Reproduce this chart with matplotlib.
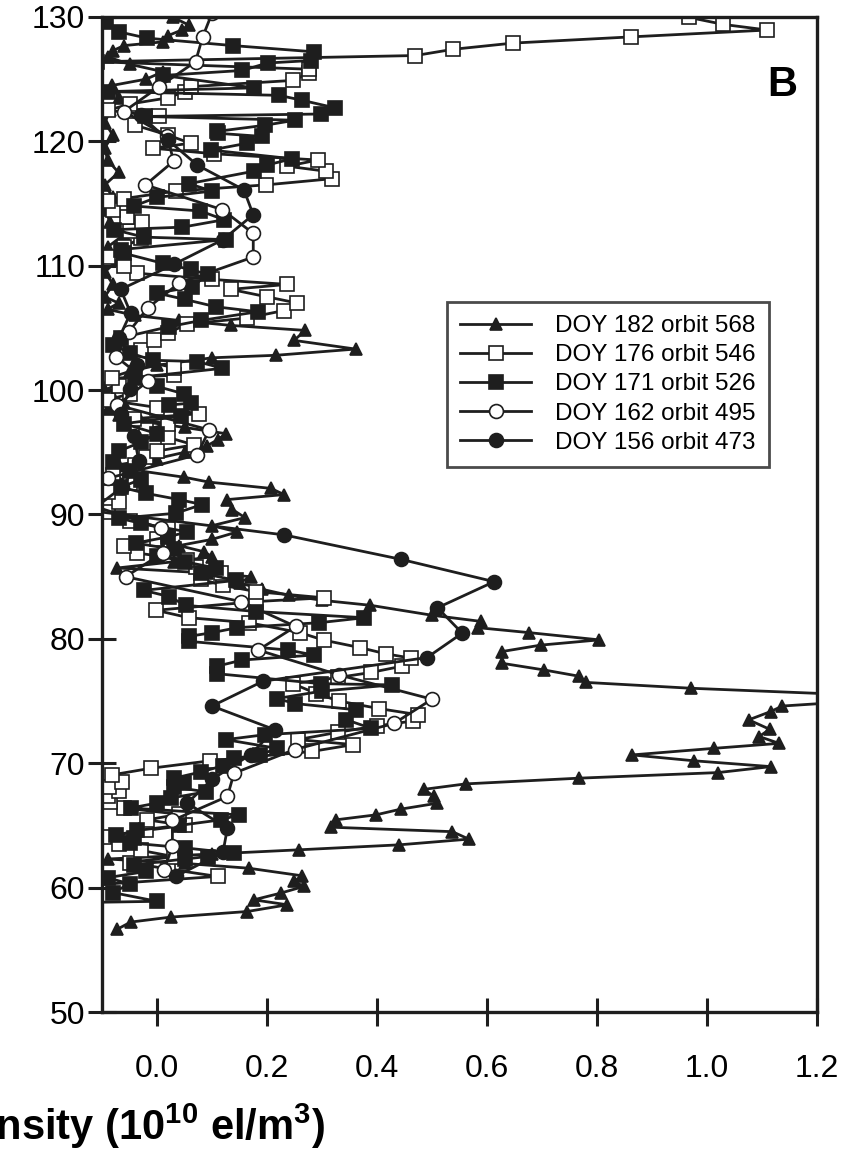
import matplotlib
matplotlib.use("Agg")
import matplotlib.pyplot as plt

plt.rcParams['font.family'] = ['Liberation Sans', 'DejaVu Sans']
plt.rcParams['mathtext.fontset'] = 'custom'
plt.rcParams['mathtext.rm'] = 'Liberation Sans'
plt.rcParams['mathtext.bf'] = 'Liberation Sans:bold'

# ---- Electron density profiles (altitude in km, density in 1e10 el/m^3) ----
doy182_alt = [56.66, 57.23, 57.63, 58.08, 58.62, 59.02, 59.56, 60.10, 60.50, 60.95,
              61.56, 61.95, 62.30, 62.70, 63.04, 63.44, 63.90, 64.50, 64.86, 65.45,
              65.85, 66.31, 66.79, 67.33, 67.90, 68.34, 68.80, 69.25, 69.73, 70.20,
              70.67, 71.20, 71.60, 72.15, 72.73, 73.49, 74.16, 74.60, 75.30, 76.03,
              76.50, 77.00, 77.50, 78.04, 78.98, 79.50, 79.92, 80.50, 80.90, 81.40,
              81.90, 82.70, 83.10, 83.50, 84.00, 84.50, 85.00, 85.30, 85.70, 86.20,
              86.60, 87.00, 87.50, 88.00, 88.60, 89.10, 89.75, 90.40, 91.20, 91.60,
              92.10, 92.60, 93.00, 93.50, 94.00, 94.50, 95.00, 95.50, 96.00, 96.50,
              97.00, 97.50, 98.00, 98.50, 99.00, 99.50, 100.0, 100.5, 101.0, 101.5,
              102.0, 102.6, 102.8, 103.3, 104.0, 104.8, 105.2, 105.6, 106.0, 106.5,
              107.0, 107.5, 108.5, 109.5, 110.5, 111.5, 112.5, 113.5, 114.5, 115.5,
              116.5, 117.5, 118.5, 119.5, 120.5, 121.5, 122.5, 123.5, 124.5, 125.0,
              125.6, 126.2, 126.8, 127.3, 127.7, 128.0, 128.5, 128.95, 129.35, 129.97,
              130.4]
doy182_ne = [-0.072, -0.048, 0.025, 0.164, 0.237, 0.176, 0.225, 0.267, 0.249, 0.264,
             0.167, 0.050, -0.090, 0.100, 0.258, 0.440, 0.567, 0.537, 0.316, 0.325,
             0.398, 0.443, 0.510, 0.504, 0.485, 0.561, 0.767, 1.020, 1.116, 0.976,
             0.864, 1.013, 1.131, 1.095, 1.114, 1.076, 1.116, 1.137, 1.380, 0.971,
             0.780, 0.767, 0.704, 0.627, 0.627, 0.698, 0.804, 0.677, 0.584, 0.590,
             0.500, 0.388, 0.300, 0.240, 0.190, 0.150, 0.170, 0.090, -0.072, 0.030,
             0.100, 0.086, 0.040, 0.100, 0.146, 0.100, 0.160, 0.137, 0.128, 0.231,
             0.207, 0.095, 0.049, -0.030, -0.070, 0.000, 0.050, 0.090, 0.110, 0.125,
             0.050, -0.030, -0.070, -0.090, -0.060, -0.080, -0.095, -0.070, -0.085, -0.050,
             0.000, 0.100, 0.216, 0.361, 0.249, 0.270, 0.135, 0.040, -0.040, -0.090,
             -0.070, -0.095, -0.080, -0.095, -0.070, -0.090, -0.060, -0.085, -0.095, -0.080,
             -0.095, -0.070, -0.090, -0.095, -0.080, -0.095, -0.085, -0.070, -0.081, -0.020,
             0.011, -0.050, -0.090, -0.080, -0.060, 0.011, 0.020, 0.045, 0.058, 0.029,
             0.000]

doy176_alt = [60.2, 60.9, 61.5, 62.0, 62.5, 63.0, 63.5, 64.1, 64.6, 65.0,
              65.45, 65.9, 66.4, 66.9, 67.4, 67.8, 68.13, 68.53, 69.07, 69.6,
              70.2, 70.95, 71.5, 71.9, 72.5, 73.0, 73.4, 73.9, 74.4, 75.0,
              75.6, 76.4, 76.9, 77.3, 77.8, 78.45, 78.8, 79.3, 79.9, 80.5,
              81.3, 81.7, 82.3, 83.0, 83.3, 83.8, 84.3, 84.8, 85.3, 85.8,
              86.35, 86.9, 87.5, 88.0, 88.8, 89.5, 90.2, 91.0, 91.8, 92.5,
              93.2, 94.0, 94.6, 95.1, 95.6, 96.2, 96.8, 97.3, 97.7, 98.1,
              98.6, 99.2, 99.7, 100.3, 100.95, 101.2, 101.8, 102.4, 103.2, 104.0,
              104.6, 105.3, 105.8, 106.4, 107.0, 107.5, 108.1, 108.5, 108.9, 109.4,
              110.0, 110.7, 111.5, 112.2, 112.8, 113.5, 113.9, 114.5, 115.2, 115.4,
              116.0, 116.5, 117.0, 117.6, 118.0, 118.5, 119.0, 119.45, 119.85, 120.5,
              121.3, 122.0, 122.5, 123.0, 123.5, 124.0, 124.4, 124.9, 125.5, 125.8,
              126.4, 126.9, 127.4, 127.9, 128.4, 128.95, 129.4, 129.97, 130.5]
doy176_ne = [-0.120, 0.110, 0.020, -0.050, 0.030, -0.030, -0.070, -0.096, -0.020, 0.050,
             -0.018, 0.040, -0.060, -0.085, -0.090, -0.070, -0.087, -0.063, -0.081, -0.011,
             0.097, 0.282, 0.357, 0.256, 0.330, 0.400, 0.466, 0.475, 0.403, 0.331,
             0.290, 0.247, 0.330, 0.389, 0.445, 0.462, 0.416, 0.369, 0.303, 0.260,
             0.167, 0.058, -0.002, 0.180, 0.304, 0.180, 0.120, 0.080, 0.116, 0.070,
             0.055, -0.036, -0.060, 0.000, 0.020, -0.050, -0.090, -0.070, -0.090, -0.050,
             -0.080, -0.040, -0.020, 0.000, 0.067, 0.020, -0.020, 0.020, -0.042, 0.076,
             0.000, -0.090, -0.050, -0.070, -0.081, 0.031, 0.031, -0.030, -0.030, -0.005,
             0.020, 0.055, 0.164, 0.231, 0.255, 0.200, 0.134, 0.237, 0.100, -0.036,
             -0.060, -0.090, -0.060, -0.030, -0.050, -0.027, -0.054, -0.080, -0.090, -0.060,
             0.034, 0.198, 0.319, 0.307, 0.237, 0.292, 0.104, -0.008, 0.061, 0.020,
             -0.040, 0.004, -0.089, -0.050, 0.020, 0.050, 0.062, 0.247, 0.277, 0.277,
             -0.110, 0.470, 0.538, 0.647, 0.862, 1.110, 1.030, 0.967, 0.900]

doy171_alt = [58.8, 58.9, 59.6, 60.3, 60.8, 61.3, 61.83, 62.3, 62.5, 62.77,
              63.2, 63.6, 64.0, 64.2, 64.6, 65.0, 65.45, 65.85, 66.4, 66.8,
              67.2, 67.7, 68.1, 68.4, 68.8, 69.3, 69.8, 70.4, 70.68, 71.2,
              71.9, 72.3, 72.8, 73.5, 74.3, 74.8, 75.2, 75.8, 76.3, 76.4,
              77.2, 77.8, 78.3, 78.7, 79.1, 79.8, 80.2, 80.5, 80.9, 81.3,
              81.7, 82.2, 82.7, 83.4, 83.9, 84.7, 85.3, 85.7, 86.2, 86.7,
              87.2, 87.7, 88.2, 88.6, 89.3, 89.7, 90.1, 90.8, 91.2, 91.7,
              92.2, 92.8, 93.5, 94.2, 95.1, 95.8, 96.5, 97.3, 97.9, 98.8,
              98.95, 99.7, 100.3, 101.0, 101.75, 102.3, 102.4, 103.0, 103.6, 104.2,
              105.1, 105.6, 106.3, 106.7, 107.3, 107.8, 108.3, 109.3, 109.7, 110.2,
              111.0, 111.3, 112.1, 112.3, 112.9, 113.1, 113.7, 114.4, 114.8, 115.5,
              116.0, 116.6, 117.6, 118.1, 118.6, 119.3, 119.85, 120.4, 120.65, 120.8,
              121.3, 121.7, 122.0, 122.2, 122.7, 123.3, 123.7, 124.0, 124.3, 125.3,
              125.7, 126.3, 126.5, 127.2, 127.7, 128.3, 128.8, 129.6, 130.3]
doy171_ne = [-0.140, 0.000, -0.080, -0.050, -0.090, -0.020, -0.042, 0.050, 0.092, 0.140,
             0.050, -0.050, -0.042, -0.075, -0.036, 0.040, 0.116, 0.149, -0.048, 0.000,
             0.025, 0.089, 0.030, 0.049, 0.031, 0.080, 0.120, 0.140, 0.188, 0.218,
             0.125, 0.197, 0.390, 0.344, 0.361, 0.251, 0.218, 0.300, 0.428, 0.298,
             0.109, 0.109, 0.155, 0.285, 0.239, 0.058, 0.058, 0.100, 0.146, 0.295,
             0.377, 0.180, 0.052, 0.022, -0.024, 0.143, 0.080, 0.107, 0.050, 0.000,
             0.030, -0.039, 0.020, 0.055, -0.030, -0.069, 0.034, 0.082, 0.040, -0.020,
             -0.066, -0.030, -0.050, -0.080, -0.069, -0.030, 0.000, -0.060, 0.043, 0.022,
             0.061, 0.049, 0.000, -0.040, 0.119, 0.073, -0.008, -0.050, -0.080, -0.066,
             0.022, 0.080, 0.183, 0.107, 0.050, 0.000, 0.064, 0.092, 0.061, 0.010,
             -0.060, -0.066, 0.125, -0.024, -0.078, 0.046, 0.122, 0.079, -0.042, 0.000,
             0.100, 0.058, 0.176, 0.200, 0.246, 0.098, 0.164, 0.190, 0.110, 0.109,
             0.197, 0.251, -0.022, 0.298, 0.323, 0.264, 0.222, -0.089, 0.176, 0.011,
             0.155, 0.201, 0.280, 0.285, 0.138, -0.018, -0.069, -0.093, -0.120]

doy162_alt = [61.43, 63.36, 65.4, 67.33, 69.2, 71.1, 73.2, 75.15, 77.1, 79.1,
              81.0, 83.0, 85.0, 86.9, 88.9, 90.9, 92.9, 94.8, 96.8, 98.8,
              100.7, 102.7, 104.7, 106.6, 108.6, 110.7, 112.6, 114.5, 116.5, 118.4,
              120.4, 122.4, 124.4, 126.4, 128.4, 130.3]
doy162_ne = [0.013, 0.028, 0.028, 0.128, 0.140, 0.250, 0.431, 0.500, 0.331, 0.184,
             0.252, 0.152, -0.057, 0.010, 0.007, -0.130, -0.090, 0.073, 0.095, -0.072,
             -0.017, -0.075, -0.051, -0.017, 0.040, 0.175, 0.175, 0.119, -0.021, 0.030,
             0.019, -0.060, 0.004, 0.070, 0.083, 0.100]

doy156_alt = [60.9, 62.85, 64.78, 66.79, 68.7, 70.7, 72.7, 74.6, 76.6, 78.5,
              80.46, 82.5, 84.6, 86.4, 88.36, 90.3, 92.2, 94.3, 96.3, 98.1,
              100.1, 102.0, 104.2, 106.2, 108.1, 110.1, 112.1, 114.1, 116.1, 118.1,
              120.1, 122.1]
doy156_ne = [0.034, 0.120, 0.128, 0.055, 0.100, 0.170, 0.214, 0.100, 0.193, 0.491,
             0.555, 0.510, 0.613, 0.443, 0.231, -0.120, -0.063, -0.033, -0.042, -0.066,
             -0.050, -0.036, -0.069, -0.048, -0.066, 0.030, 0.120, 0.175, 0.158, 0.073,
             0.020, -0.030]

series = [
    ("DOY 182 orbit 568", doy182_ne, doy182_alt, dict(marker='^', ms=8, mfc='#1e1e1e')),
    ("DOY 176 orbit 546", doy176_ne, doy176_alt, dict(marker='s', ms=10, mfc='white')),
    ("DOY 171 orbit 526", doy171_ne, doy171_alt, dict(marker='s', ms=10, mfc='#1e1e1e')),
    ("DOY 162 orbit 495", doy162_ne, doy162_alt, dict(marker='o', ms=10, mfc='white')),
    ("DOY 156 orbit 473", doy156_ne, doy156_alt, dict(marker='o', ms=10, mfc='#1e1e1e')),
]

fig = plt.figure(figsize=(8.48, 11.55), dpi=100)
ax = fig.add_axes([0.1203, 0.1238, 0.8431, 0.8615])

handles = []
for label, xs, ys, style in series:
    h, = ax.plot(xs, ys, color='#1e1e1e', lw=2.0, mec='#1e1e1e', mew=1.2,
                 label=label, **style)
    handles.append(h)

ax.set_xlim(-0.1, 1.2)
ax.set_ylim(50, 130)
ax.set_xticks([0.0, 0.2, 0.4, 0.6, 0.8, 1.0, 1.2])
ax.set_xticklabels(['0.0', '0.2', '0.4', '0.6', '0.8', '1.0', '1.2'])
ax.set_yticks(range(50, 131, 10))

for s in ax.spines.values():
    s.set_linewidth(2.4)
    s.set_color('#1e1e1e')
ax.tick_params(axis='both', direction='inout', length=20, width=2.2,
               color='#1e1e1e', labelsize=23)
ax.tick_params(axis='x', pad=20)
ax.tick_params(axis='y', pad=2)

leg = ax.legend(handles=handles, loc='upper left', bbox_to_anchor=(0.4825, 0.7136),
                fontsize=17.5, frameon=True, fancybox=False, edgecolor='#1e1e1e',
                handlelength=2.9, handletextpad=1.0, labelspacing=0.29,
                borderpad=0.55, borderaxespad=0)
leg.get_frame().set_linewidth(2.0)

ax.text(0.972, 0.932, 'B', transform=ax.transAxes, ha='right', va='center',
        fontsize=30, fontweight='bold')

fig.text(0.383, 0.013, 'Electron density (10$^{\\mathbf{10}}$ el/m$^{\\mathbf{3}}$)',
         ha='right', va='baseline', fontsize=30, fontweight='bold')

fig.savefig('out.png', dpi=100)
